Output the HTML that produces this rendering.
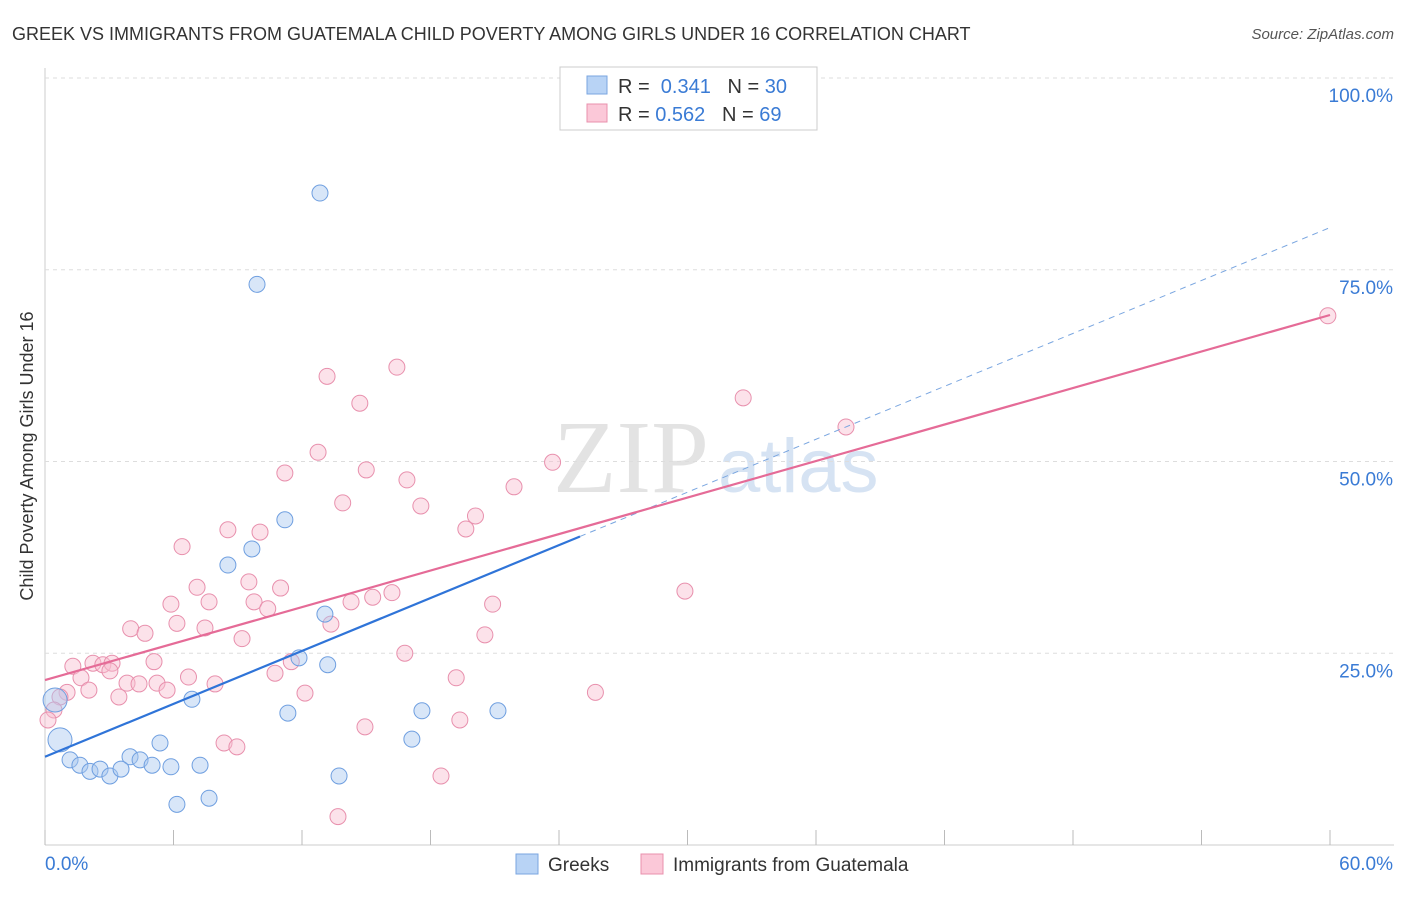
<!DOCTYPE html>
<html><head><meta charset="utf-8"><style>
body{margin:0;background:#fff;font-family:"Liberation Sans",sans-serif}
</style></head><body>
<svg id="chart" width="1406" height="892" xmlns="http://www.w3.org/2000/svg" font-family="Liberation Sans, sans-serif">
<text x="12" y="40" font-size="18" fill="#333">GREEK VS IMMIGRANTS FROM GUATEMALA CHILD POVERTY AMONG GIRLS UNDER 16 CORRELATION CHART</text>
<text x="1394" y="39" font-size="15" fill="#555" font-style="italic" text-anchor="end">Source: ZipAtlas.com</text>
<text x="553" y="492" font-size="104" fill="#e3e3e3" font-family="Liberation Serif, serif">ZIP</text>
<text x="718" y="492" font-size="76" fill="#d6e3f3">atlas</text>
<text transform="translate(33,456) rotate(-90)" font-size="18" fill="#333" text-anchor="middle">Child Poverty Among Girls Under 16</text>
<g id="grid"></g><g id="marks"></g>
<g>
<rect x="560" y="67" width="257" height="63" fill="#fff" stroke="#ccc"/>
<rect x="587" y="76" width="20" height="18" fill="#b8d3f5" stroke="#7aa6e0"/>
<rect x="587" y="104" width="20" height="18" fill="#fbc8d8" stroke="#e890ad"/>
<text x="618" y="93" font-size="20" fill="#333">R = <tspan fill="#3a7bd5">&#160;0.341</tspan>&#160;&#160;&#160;N = <tspan fill="#3a7bd5">30</tspan></text>
<text x="618" y="121" font-size="20" fill="#333">R = <tspan fill="#3a7bd5">0.562</tspan>&#160;&#160;&#160;N = <tspan fill="#3a7bd5">69</tspan></text>
</g>
<g>
<rect x="516" y="854" width="22" height="20" fill="#b8d3f5" stroke="#7aa6e0"/>
<text x="548" y="871" font-size="19" fill="#333">Greeks</text>
<rect x="641" y="854" width="22" height="20" fill="#fbc8d8" stroke="#e890ad"/>
<text x="673" y="871" font-size="19" fill="#333">Immigrants from Guatemala</text>
</g>
</svg>
<script>
const xTicks=[0,6,12,18,24,30,36,42,48,54,60];
const yTicks=[25,50,75,100];
const greeksX=[12.84,9.9,11.2,9.66,8.54,13.07,13.2,11.86,6.86,11.34,17.6,21.15,17.13,5.37,3.97,4.44,5.0,5.88,7.24,1.17,1.63,2.1,2.57,3.03,3.55,13.73,6.16,7.66,0.7,0.47];
const greeksY=[85.0,73.1,42.4,38.6,36.5,30.1,23.5,24.4,19.0,17.2,17.5,17.5,13.8,13.3,11.5,11.1,10.4,10.2,10.4,11.1,10.4,9.6,9.9,9.0,9.9,9.0,5.3,6.1,13.7,18.9];
const guatX=[59.9,16.43,13.17,14.7,32.6,37.4,12.75,23.7,15.0,11.2,16.9,21.9,13.9,17.55,20.1,19.65,8.54,10.04,6.4,9.52,7.1,11.0,29.88,16.2,15.3,7.66,9.76,14.29,5.88,20.9,10.4,6.16,13.35,7.47,4.0,4.67,20.54,9.2,16.8,5.09,2.24,1.3,2.7,3.13,11.5,3.03,6.7,10.74,1.68,19.2,3.83,5.23,4.39,7.94,5.7,2.05,1.03,12.14,25.7,3.45,0.7,0.42,0.14,19.37,14.94,8.36,8.96,18.49,13.68];
const guatY=[69.0,62.3,61.1,57.6,58.3,54.5,51.2,49.9,48.9,48.5,47.6,46.7,44.6,44.2,42.9,41.2,41.1,40.8,38.9,34.3,33.6,33.5,33.1,32.9,32.3,31.7,31.7,31.7,31.4,31.4,30.8,28.9,28.8,28.3,28.2,27.6,27.4,26.9,25.0,23.9,23.7,23.3,23.5,23.7,23.9,22.7,21.9,22.4,21.8,21.8,21.1,21.1,21.0,21.0,20.2,20.2,19.9,19.8,19.9,19.3,19.3,17.6,16.3,16.3,15.4,13.3,12.8,9.0,3.7];
const greeksTrend=[11.5,80.5];
const guatTrend=[21.5,69.1];
const NS="http://www.w3.org/2000/svg";
const X=v=>45+v*(1285/60), Y=v=>845-v*7.67;
function mk(t,a,p){const e=document.createElementNS(NS,t);for(const k in a)e.setAttribute(k,a[k]);p.appendChild(e);return e;}
const g=document.getElementById('grid'), m=document.getElementById('marks');
let ax=mk('line',{x1:45,y1:845,x2:1394,y2:845,stroke:'#ccc'},g);

let ay=mk('line',{x1:45,y1:68,x2:45,y2:845,stroke:'#ccc'},g);

xTicks.forEach(t=>{let l=mk('line',{x1:X(t),y1:830,x2:X(t),y2:845,stroke:'#bbb'},g);
});
yTicks.forEach(t=>{let l=mk('line',{x1:45,y1:Y(t),x2:1394,y2:Y(t),stroke:'#ddd','stroke-dasharray':'4,4'},g);

let tx=mk('text',{x:1393,y:Y(t)+24,'font-size':19,fill:'#3a7bd5','text-anchor':'end'},g);tx.textContent=t.toFixed(1)+'%';
});
let x0=mk('text',{x:45,y:870,'font-size':19,fill:'#3a7bd5'},g);x0.textContent='0.0%';

let x1=mk('text',{x:1393,y:870,'font-size':19,fill:'#3a7bd5','text-anchor':'end'},g);x1.textContent='60.0%';

function pts(xs,ys,fill,stroke,name){xs.forEach((x,i)=>{const big=(name==='greek-point'&&i>=28);
let c=mk('circle',{cx:X(x),cy:Y(ys[i]),r:big?12:8,fill:fill,'fill-opacity':0.45,stroke:stroke,'stroke-width':1},m);
});}
pts(guatX,guatY,'#f9bfd1','#e890ad','guatemala-point');
pts(greeksX,greeksY,'#a9c8f0','#6f9fe0','greek-point');
const bx=24.98;
let bl=mk('line',{x1:X(0),y1:Y(greeksTrend[0]),x2:X(bx),y2:Y(greeksTrend[0]+(greeksTrend[1]-greeksTrend[0])*bx/60),stroke:'#2f74d8','stroke-width':2.2},m);

let bd=mk('line',{x1:X(bx),y1:Y(greeksTrend[0]+(greeksTrend[1]-greeksTrend[0])*bx/60),x2:X(60),y2:Y(greeksTrend[1]),stroke:'#7aa6e0','stroke-width':1,'stroke-dasharray':'6,5'},m);

let pl=mk('line',{x1:X(0),y1:Y(guatTrend[0]),x2:X(60),y2:Y(guatTrend[1]),stroke:'#e56b97','stroke-width':2.2},m);

</script>
</body></html>
